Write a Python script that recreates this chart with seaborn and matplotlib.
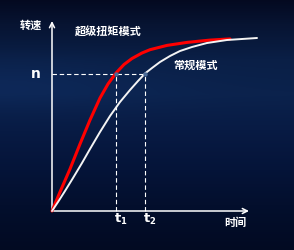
import numpy as np
import pandas as pd
import matplotlib
matplotlib.use("Agg")
import matplotlib.pyplot as plt
import seaborn as sns
from matplotlib.colors import to_rgb

# ---- data (time / speed, arbitrary units) ----
red_time = [0, 8, 18, 28, 38, 48, 56, 64, 72, 80, 90, 98, 115, 135, 158, 178]
red_speed = [0, 19, 42, 67, 91, 113, 127, 138, 146.5, 152.5, 158, 161.3, 165.6, 168.6, 170.9, 172.1]
white_time = [0, 6, 13, 21, 30, 38, 48, 58, 68, 78, 86, 93, 100, 108, 118, 128, 140, 155, 175, 205]
white_speed = [0, 9, 20, 33, 48, 62, 79, 95, 109, 121, 130, 137.5, 143, 149, 155, 160, 164, 168, 171, 173]
n_level = 137.5
t1 = 64
t2 = 93
series_names = ["超级扭矩模式", "常规模式"]

sns.set_theme(style="white")
plt.rcParams['font.family'] = ['Noto Sans CJK SC', 'DejaVu Sans']

fig = plt.figure(figsize=(2.94, 2.51), dpi=100)
ax = fig.add_axes([0, 0, 1, 1])
X0, X1, Y0, Y1 = -52, 242, -39, 212

# background gradient
H, W = 251, 294
stops = [(0, "#040920"), (25, "#071432"), (60, "#0a1f46"), (95, "#0b224c"),
         (130, "#081b44"), (170, "#051439"), (205, "#030f2d"), (251, "#020a22")]
ys = np.arange(H)
cols = np.zeros((H, 3))
for c in range(3):
    cols[:, c] = np.interp(ys, [s[0] for s in stops], [to_rgb(s[1])[c] for s in stops])
img = np.repeat(cols[:, None, :], W, axis=1)
xx = np.arange(W)[None, :]
yy = np.arange(H)[:, None]
band = np.exp(-((yy - 85) / 25.0) ** 2) * np.exp(-(xx / 160.0) ** 2) * 0.05
img = np.clip(img + band[:, :, None] * np.array([0.2, 0.5, 1.0]), 0, 1)
ax.imshow(img, extent=[X0, X1, Y0, Y1], aspect="auto", zorder=0)

# axes with arrows
ax.annotate("", xy=(0, 190), xytext=(0, 0),
            arrowprops=dict(arrowstyle="->", color="white", lw=1.1,
                            mutation_scale=9, shrinkA=0, shrinkB=0), zorder=3)
ax.annotate("", xy=(197, 0), xytext=(0, 0),
            arrowprops=dict(arrowstyle="->", color="white", lw=1.1,
                            mutation_scale=9, shrinkA=0, shrinkB=0), zorder=3)

# dashed guides
ax.plot([0, t2], [n_level, n_level], color="white", lw=0.8, ls=(0, (4, 2.5)), zorder=2)
ax.plot([t1, t1], [0, n_level], color="white", lw=0.8, ls=(0, (4, 2.5)), zorder=2)
ax.plot([t2, t2], [0, n_level], color="white", lw=0.8, ls=(0, (4, 2.5)), zorder=2)

# curves
df_red = pd.DataFrame({"time": red_time, "speed": red_speed})
df_white = pd.DataFrame({"time": white_time, "speed": white_speed})
sns.lineplot(data=df_red, x="time", y="speed", ax=ax, color="#ff0000", lw=2.2,
             sort=False, zorder=4, estimator=None)
sns.lineplot(data=df_white, x="time", y="speed", ax=ax, color="#f4f4f4", lw=1.4,
             sort=False, zorder=5, estimator=None)
ax.set_xlim(X0, X1)
ax.set_ylim(Y0, Y1)
ax.axis("off")

# intersection dots
ax.scatter([t1, t2], [n_level, n_level], s=10, color="#4a6a96", zorder=6, linewidths=0)

# texts
tk = dict(color="white", fontweight="bold", ha="center", va="center")
ax.text(-21, 187, "转速", fontsize=8, **tk)
ax.text(56, 180, series_names[0], fontsize=8, **tk)
ax.text(143, 147, series_names[1], fontsize=8, **tk)
ax.text(-16, 138, "n", fontsize=10, family="DejaVu Sans", **tk)
ax.text(183, -10, "时间", fontsize=8, **tk)
for tx, sub in [(t1, "1"), (t2, "2")]:
    ax.text(tx + 2, -7, "t", fontsize=9.5, family="DejaVu Sans", **tk)
    ax.text(tx + 7, -9.5, sub, fontsize=6, family="DejaVu Sans", **tk)

fig.savefig("out.png", dpi=100)
